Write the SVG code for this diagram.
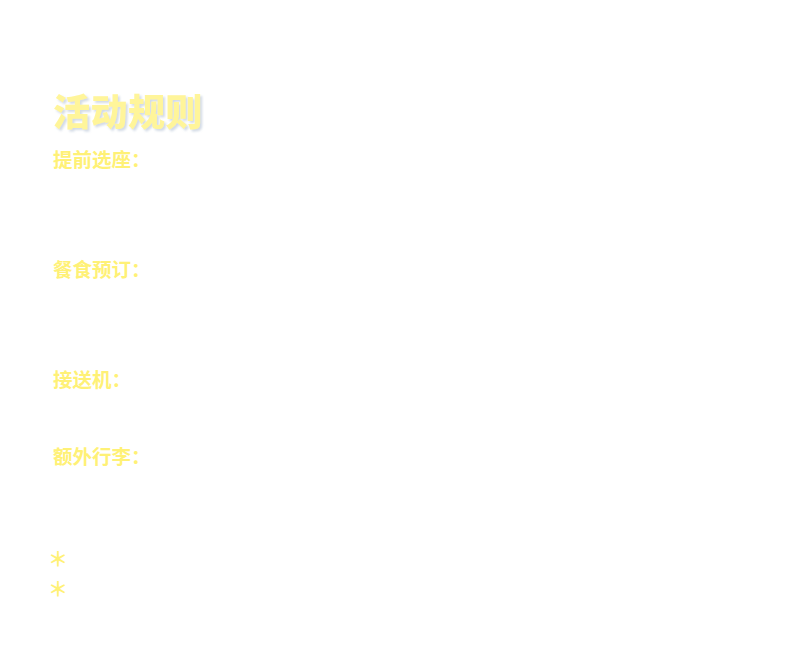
<svg xmlns="http://www.w3.org/2000/svg" width="787" height="667" viewBox="0 0 787 667">
<defs>
<style>
.title{font-family:"Noto Sans CJK SC",sans-serif;font-weight:900;font-size:37px;letter-spacing:0.5px;fill:#fff59a;}
.label{font-family:"Noto Sans CJK SC",sans-serif;font-weight:700;font-size:19.5px;fill:#fff176;}
.star{font-family:"Noto Sans CJK SC",sans-serif;font-weight:700;font-size:20px;fill:#fff176;}
</style>
<filter id="sh" x="-10%" y="-20%" width="130%" height="150%">
<feDropShadow dx="2" dy="2" stdDeviation="1" flood-color="#c8d2e0" flood-opacity="0.8"/>
</filter>
</defs>
<rect width="787" height="667" fill="#ffffff"/>
<g id="title"><text class="title" x="53" y="126" filter="url(#sh)">活动规则</text></g>
<g id="seat"><text class="label" x="53" y="167">提前选座：</text></g>
<g id="meal"><text class="label" x="53" y="277">餐食预订：</text></g>
<g id="transfer"><text class="label" x="53" y="387">接送机：</text></g>
<g id="baggage"><text class="label" x="53" y="464">额外行李：</text></g>
<g id="notes">
<text class="star" x="48" y="567">＊</text>
<text class="star" x="48" y="597">＊</text>
</g>
<g id="connectors"></g>
</svg>
